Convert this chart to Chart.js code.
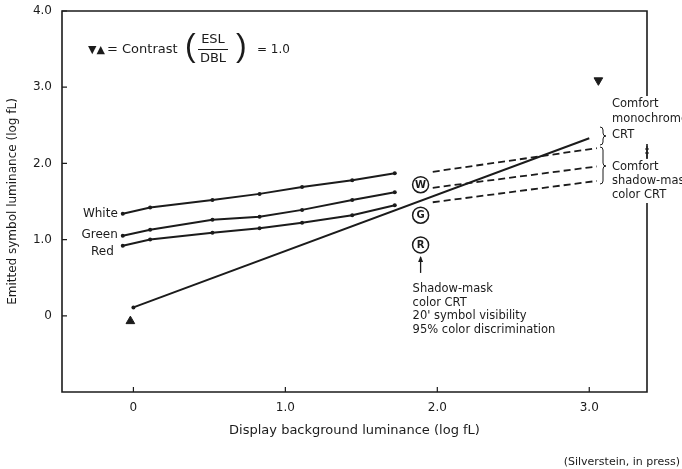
<!DOCTYPE html>
<html>
<head>
<meta charset="utf-8">
<script src="https://cdn.jsdelivr.net/npm/chart.js@4.4.0/dist/chart.umd.min.js"></script>
<style>
  html, body { margin: 0; padding: 0; background: #fff; }
  #wrap { width: 682px; height: 469px; }
</style>
</head>
<body>
<div id="wrap"><canvas id="chart" width="682" height="469"></canvas></div>
<script>
// axis ticks
const xTicks = [0, 1, 2, 3];
const xTickLabels = ['0', '1.0', '2.0', '3.0'];
const yTicks = [0, 1, 2, 3, 4];
const yTickLabels = ['0', '1.0', '2.0', '3.0', '4.0'];

// measured curves (log fL), solid part
const solidX = [-0.07, 0.11, 0.52, 0.83, 1.11, 1.44, 1.72];
const whiteSolid = [1.34, 1.42, 1.52, 1.60, 1.69, 1.78, 1.87];
const greenSolid = [1.05, 1.13, 1.26, 1.30, 1.39, 1.52, 1.62];
const redSolid = [0.92, 1.00, 1.09, 1.15, 1.22, 1.32, 1.45];

// extrapolated (dashed) part
const dashX = [1.97, 3.05];
const whiteDash = [1.89, 2.20];
const greenDash = [1.68, 1.96];
const redDash = [1.49, 1.77];

// contrast = 1.0 line
const contrastX = [0, 3.0];
const contrastY = [0.11, 2.33];

// circled display points
const circleLetters = ['W', 'G', 'R'];
const circleX = [1.89, 1.89, 1.89];
const circleY = [1.72, 1.32, 0.93];

// end markers of the contrast line
const markX = [-0.02, 3.06];
const markY = [-0.07, 3.09];
const markRot = [0, 180];

const lineLabels = ['White', 'Green', 'Red'];
const ink = '#1b1b1b';
const FONT = '"DejaVu Sans", sans-serif';

const pts = (xs, ys) => xs.map((v, i) => ({ x: v, y: ys[i] }));

function drawBrace(ctx, x, y1, y2, ym, w) {
  ctx.beginPath();
  ctx.moveTo(x, y1);
  ctx.quadraticCurveTo(x + w / 2, y1, x + w / 2, y1 + 3);
  ctx.lineTo(x + w / 2, ym - 3);
  ctx.quadraticCurveTo(x + w / 2, ym, x + w, ym);
  ctx.quadraticCurveTo(x + w / 2, ym, x + w / 2, ym + 3);
  ctx.lineTo(x + w / 2, y2 - 3);
  ctx.quadraticCurveTo(x + w / 2, y2, x, y2);
  ctx.stroke();
}

const annotate = {
  id: 'annotate',
  beforeDatasetsDraw(chart) {
    const { ctx, chartArea: a, scales: { x, y } } = chart;
    ctx.save();
    ctx.strokeStyle = ink;
    ctx.lineWidth = 1.6;
    ctx.beginPath();
    ctx.moveTo(a.left, a.top); ctx.lineTo(a.right, a.top); ctx.lineTo(a.right, a.bottom);
    ctx.lineTo(a.left, a.bottom); ctx.closePath();
    ctx.stroke();
    ctx.lineWidth = 1.2;
    ctx.beginPath();
    yTicks.forEach(v => { const p = y.getPixelForValue(v); ctx.moveTo(a.left, p); ctx.lineTo(a.left + 5, p); });
    xTicks.forEach(v => { const p = x.getPixelForValue(v); ctx.moveTo(p, a.bottom); ctx.lineTo(p, a.bottom - 5); });
    ctx.stroke();
    ctx.restore();
  },
  afterDraw(chart) {
    const { ctx, chartArea: a, scales: { x, y } } = chart;
    ctx.save();
    ctx.fillStyle = ink;
    ctx.strokeStyle = ink;
    ctx.textBaseline = 'middle';

    // curve names
    ctx.font = '12px ' + FONT;
    ctx.textAlign = 'right';
    const starts = [whiteSolid[0], greenSolid[0], redSolid[0]];
    const dy = [0, -1, 6];
    lineLabels.forEach((t, i) => {
      ctx.fillText(t, x.getPixelForValue(solidX[0]) - 5 - (i === 2 ? 4 : 0), y.getPixelForValue(starts[i]) + dy[i]);
    });

    // circled letters
    ctx.textAlign = 'center';
    ctx.font = 'bold 10px ' + FONT;
    circleLetters.forEach((t, i) => {
      ctx.fillText(t, x.getPixelForValue(circleX[i]), y.getPixelForValue(circleY[i]) + 0.5);
    });

    // arrow pointing to R
    const rx = x.getPixelForValue(circleX[2]);
    const ry = y.getPixelForValue(circleY[2]);
    ctx.lineWidth = 1.3;
    ctx.beginPath();
    ctx.moveTo(rx, ry + 12); ctx.lineTo(rx, ry + 28);
    ctx.stroke();
    ctx.beginPath();
    ctx.moveTo(rx, ry + 11); ctx.lineTo(rx - 2.5, ry + 17); ctx.lineTo(rx + 2.5, ry + 17); ctx.closePath();
    ctx.fill();

    ctx.textAlign = 'left';
    ctx.font = '11.5px ' + FONT;
    ['Shadow-mask', 'color CRT', "20' symbol visibility", '95% color discrimination'].forEach((t, i) => {
      ctx.fillText(t, rx - 8, ry + 44 + i * 13.7);
    });

    // contrast formula
    ctx.font = 'bold 11px ' + FONT;
    ctx.fillText('▼▲', 88, 50);
    ctx.font = '13px ' + FONT;
    ctx.fillText('= Contrast', 107, 50);
    ctx.font = '32px "Liberation Sans", sans-serif';
    ctx.fillText('(', 185, 47);
    ctx.fillText(')', 236, 47);
    ctx.font = '13px ' + FONT;
    ctx.textAlign = 'center';
    ctx.fillText('ESL', 213, 40);
    ctx.fillText('DBL', 213, 59);
    ctx.lineWidth = 1;
    ctx.beginPath(); ctx.moveTo(198, 49.5); ctx.lineTo(228, 49.5); ctx.stroke();
    ctx.textAlign = 'left';
    ctx.font = '12px ' + FONT;
    ctx.fillText('= 1.0', 257, 50);

    // right-hand notes, over the frame
    ctx.fillStyle = '#fff';
    ctx.fillRect(608, 96, 74, 48);
    ctx.fillRect(608, 159, 74, 44);
    ctx.fillStyle = ink;
    ctx.font = '11.5px ' + FONT;
    ['Comfort', 'monochrome', 'CRT'].forEach((t, i) => ctx.fillText(t, 612, 104 + i * 15.5));
    ['Comfort', 'shadow-mask', 'color CRT'].forEach((t, i) => ctx.fillText(t, 612, 167 + i * 14));
    ctx.lineWidth = 1.2;
    ctx.beginPath();
    ctx.moveTo(a.right, 146); ctx.lineTo(a.right, 158);
    ctx.moveTo(a.right - 2, 149); ctx.lineTo(a.right + 2, 149);
    ctx.moveTo(a.right - 2, 153); ctx.lineTo(a.right + 2, 153);
    ctx.stroke();
    ctx.lineWidth = 1;
    drawBrace(ctx, 600, 127, 145, 136, 6);
    drawBrace(ctx, 600, 147, 184, 166, 6);

    // source
    ctx.textAlign = 'right';
    ctx.font = '11px ' + FONT;
    ctx.fillText('(Silverstein, in press)', 680, 462);
    ctx.restore();
  }
};

const solidStyle = { showLine: true, borderColor: ink, borderWidth: 2, pointRadius: 2, pointBackgroundColor: ink, pointBorderWidth: 0 };
const dashStyle = { showLine: true, borderColor: ink, borderWidth: 1.8, borderDash: [7, 4], pointRadius: 0 };

new Chart(document.getElementById('chart'), {
  type: 'scatter',
  data: {
    datasets: [
      { label: 'display', data: pts(circleX, circleY), pointRadius: 8, pointBackgroundColor: '#fff', pointBorderColor: ink, pointBorderWidth: 1.5 },
      { label: 'marks', data: pts(markX, markY), pointStyle: 'triangle', pointRadius: 5, pointRotation: markRot, pointBackgroundColor: ink, pointBorderColor: ink },
      { label: 'Contrast 1.0', data: pts(contrastX, contrastY), ...solidStyle, pointRadius: [2, 0] },
      { label: 'White', data: pts(solidX, whiteSolid), ...solidStyle },
      { label: 'Green', data: pts(solidX, greenSolid), ...solidStyle },
      { label: 'Red', data: pts(solidX, redSolid), ...solidStyle },
      { label: 'White ext', data: pts(dashX, whiteDash), ...dashStyle },
      { label: 'Green ext', data: pts(dashX, greenDash), ...dashStyle },
      { label: 'Red ext', data: pts(dashX, redDash), ...dashStyle },
    ],
  },
  options: {
    responsive: false,
    animation: false,
    layout: { padding: { top: 11, right: 35, bottom: 27, left: 0 } },
    plugins: { legend: { display: false }, tooltip: { enabled: false } },
    scales: {
      x: {
        type: 'linear',
        min: -0.47,
        max: 3.38,
        afterBuildTicks: s => { s.ticks = xTicks.map(v => ({ value: v })); },
        afterFit: s => { s.height = 50; s.paddingLeft = 0; s.paddingRight = 0; },
        ticks: { callback: (v, i) => xTickLabels[i], padding: 9, maxRotation: 0, autoSkip: false, color: ink, font: { family: FONT, size: 12 } },
        grid: { display: false, drawTicks: false },
        border: { display: false },
        title: { display: true, text: 'Display background luminance (log fL)', color: ink, font: { family: FONT, size: 13 }, padding: { top: 4, bottom: 4 } },
      },
      y: {
        type: 'linear',
        min: -1,
        max: 4,
        afterBuildTicks: s => { s.ticks = yTicks.map(v => ({ value: v })); },
        afterFit: s => { s.width = 62; s.paddingTop = 0; s.paddingBottom = 0; },
        ticks: { callback: (v, i) => yTickLabels[i], padding: 10, autoSkip: false, color: ink, font: { family: FONT, size: 12 } },
        grid: { display: false, drawTicks: false },
        border: { display: false },
        title: { display: true, text: 'Emitted symbol luminance (log fL)', color: ink, font: { family: FONT, size: 12 }, padding: { top: 6, bottom: 4 } },
      },
    },
  },
  plugins: [annotate],
});
</script>
</body>
</html>
